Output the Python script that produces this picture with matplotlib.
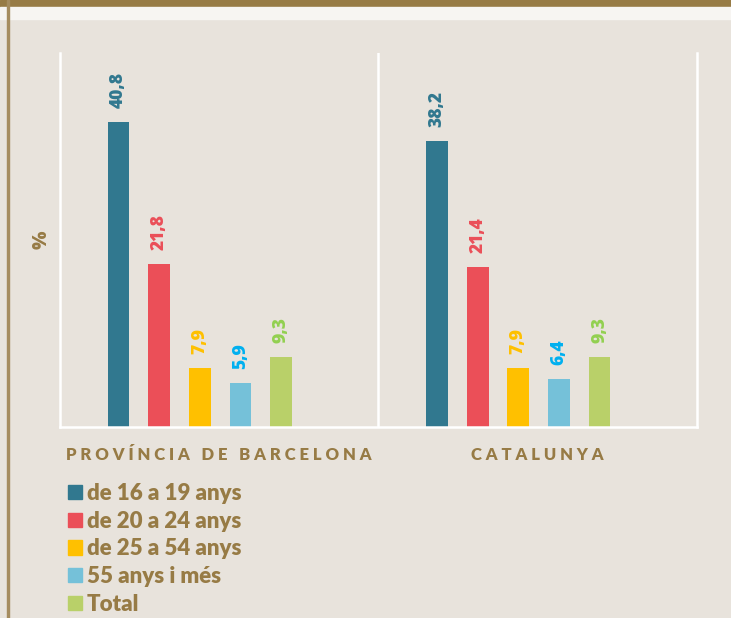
import numpy as np
import matplotlib.pyplot as plt
from matplotlib.patches import Patch, Rectangle

# dades
regions = ["PROVÍNCIA DE BARCELONA", "CATALUNYA"]
groups = ["de 16 a 19 anys", "de 20 a 24 anys", "de 25 a 54 anys", "55 anys i més", "Total"]
barcelona = [40.8, 21.8, 7.9, 5.9, 9.3]
catalunya = [38.2, 21.4, 7.9, 6.4, 9.3]

bar_colors = ["#31788f", "#eb4f58", "#ffc000", "#75c1d9", "#b9d069"]
label_colors = ["#31788f", "#eb4f58", "#ffc000", "#00b0f0", "#92d050"]
brown = "#977b45"
bg = "#e8e3dc"

plt.rcParams['font.family'] = ['Lato', 'DejaVu Sans']

fig = plt.figure(figsize=(7.31, 6.18), dpi=100, facecolor=bg)
ax = fig.add_axes([60 / 731, 1 - 427 / 618, 637 / 731, 374 / 618])
ax.set_facecolor(bg)

# decoració superior i vora esquerra
fig.patches.append(Rectangle((0, 1 - 7 / 618), 1, 7 / 618, transform=fig.transFigure,
                             color=brown, zorder=0))
fig.patches.append(Rectangle((0, 1 - 19 / 618), 1, 12 / 618, transform=fig.transFigure,
                             color="#f7f5f2", zorder=0))
fig.patches.append(Rectangle((7 / 731, 0), 2 / 731, 1, transform=fig.transFigure,
                             color="#a58c5f", zorder=1))


def spaced(s):
    return "   ".join(" ".join(w) for w in s.split(" "))


offset = 0.184
step = 0.1275
width = 0.068
for g, vals in enumerate([barcelona, catalunya]):
    for i, v in enumerate(vals):
        x = g + offset + i * step
        ax.bar(x, v, width=width, color=bar_colors[i], zorder=2)
        ax.text(x, v + 1.9, f"{v:.1f}".replace(".", ","), rotation=90,
                ha="center", va="bottom", fontsize=12.5, fontweight="heavy",
                color=label_colors[i], family="Open Sans")
    ax.text(g + 0.5, -3.75, spaced(regions[g]),
            ha="center", va="center", fontsize=12, fontweight="heavy", color=brown)

ax.set_xlim(0, 2)
ax.set_ylim(0, 50)
ax.axvline(1, color="white", lw=1.8, zorder=1)
for s in ["left", "right", "bottom"]:
    ax.spines[s].set_color("white")
    ax.spines[s].set_linewidth(1.8)
ax.spines["top"].set_visible(False)
ax.set_xticks([])
ax.set_yticks([])

fig.text(42 / 731, 1 - 240 / 618, "%", rotation=90, ha="center", va="center",
         fontsize=14, fontweight="heavy", color=brown, family="Open Sans")

handles = [Patch(color=c) for c in bar_colors]
leg = fig.legend(handles, groups, loc="upper left", bbox_to_anchor=(68 / 731, 1 - 483 / 618),
                 frameon=False, fontsize=16, handlelength=0.63, handleheight=0.63,
                 handletextpad=0.22, labelspacing=0.3, borderpad=0, borderaxespad=0)
for t in leg.get_texts():
    t.set_color(brown)
    t.set_fontweight("heavy")

fig.savefig("out.png", dpi=100, facecolor=bg)
